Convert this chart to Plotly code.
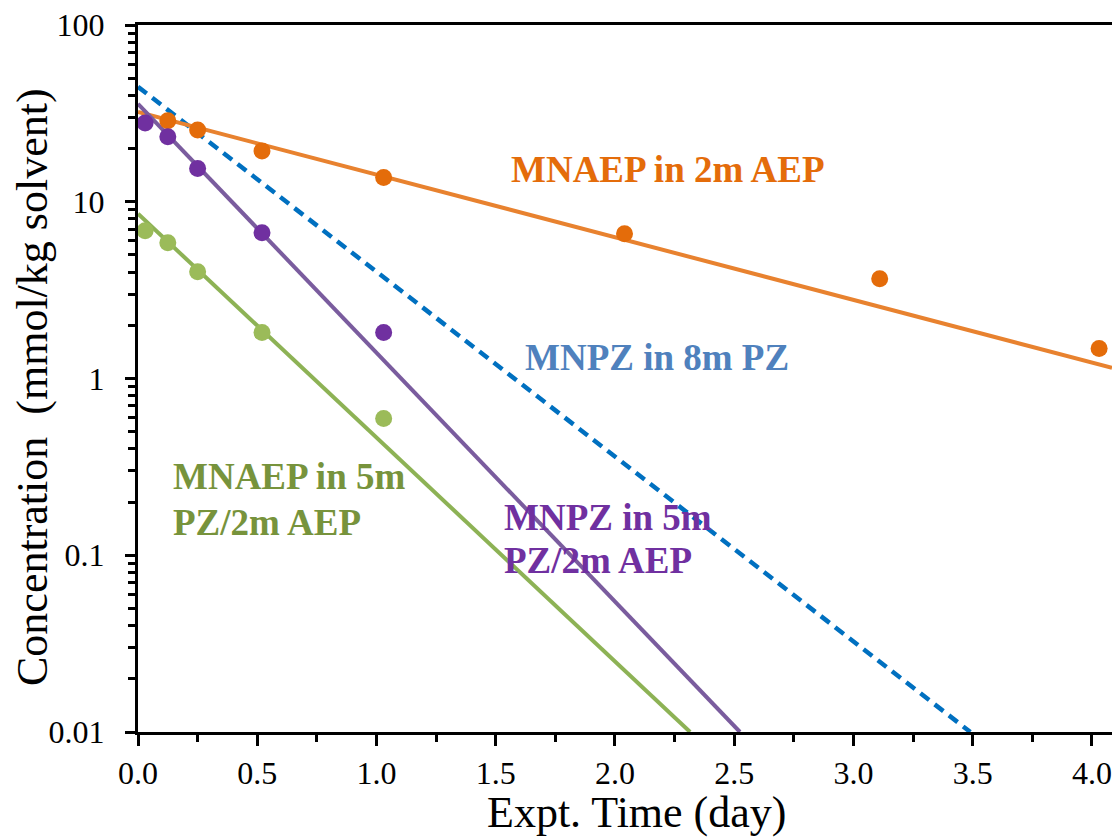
import plotly.graph_objects as go

# ---------------- data ----------------
# measured points: time (day) and concentration (mmol/kg solvent)
aep2_time = [0.125, 0.25, 0.52, 1.03, 2.04, 3.11, 4.03]
aep2_conc = [28.7, 25.5, 19.4, 13.7, 6.6, 3.67, 1.48]

mnpz_blend_time = [0.03, 0.125, 0.25, 0.52, 1.03]
mnpz_blend_conc = [27.9, 23.3, 15.4, 6.68, 1.82]

mnaep_blend_time = [0.03, 0.125, 0.25, 0.52, 1.03]
mnaep_blend_conc = [6.86, 5.87, 4.02, 1.82, 0.594]

# first-order fit lines (straight on the log axis), given by their end points
aep2_fit_time = [0.0, 4.084]
aep2_fit_conc = [32.2, 1.15]

mnpz_blend_fit_time = [0.0, 2.524]
mnpz_blend_fit_conc = [35.8, 0.01]

mnaep_blend_fit_time = [0.0, 2.315]
mnaep_blend_fit_conc = [8.56, 0.01]

pz8_fit_time = [0.0, 3.49]
pz8_fit_conc = [44.7, 0.01]

x_tick_vals = [0.0, 0.5, 1.0, 1.5, 2.0, 2.5, 3.0, 3.5, 4.0]
y_tick_vals = [0.01, 0.1, 1, 10, 100]
y_tick_text = ["0.01", "0.1", "1", "10", "100"]

# ---------------- style ----------------
FONT = "Liberation Serif, Times New Roman, serif"
ORANGE_PT = "#E46C0A"
ORANGE_LN = "#E8822F"
PURPLE_PT = "#7030A0"
PURPLE_LN = "#7A5C9E"
GREEN_PT = "#9BBB59"
GREEN_LN = "#8DB255"
BLUE_LN = "#0070C0"

fig = go.Figure()

# fit lines
fig.add_trace(go.Scatter(x=pz8_fit_time, y=pz8_fit_conc, mode="lines",
                         line=dict(color=BLUE_LN, width=4.5, dash="11px,7px"),
                         showlegend=False, name="MNPZ in 8m PZ"))
fig.add_trace(go.Scatter(x=aep2_fit_time, y=aep2_fit_conc, mode="lines",
                         line=dict(color=ORANGE_LN, width=4),
                         showlegend=False, name="MNAEP in 2m AEP fit"))
fig.add_trace(go.Scatter(x=mnaep_blend_fit_time, y=mnaep_blend_fit_conc, mode="lines",
                         line=dict(color=GREEN_LN, width=4),
                         showlegend=False, name="MNAEP in 5m PZ/2m AEP fit"))
fig.add_trace(go.Scatter(x=mnpz_blend_fit_time, y=mnpz_blend_fit_conc, mode="lines",
                         line=dict(color=PURPLE_LN, width=4),
                         showlegend=False, name="MNPZ in 5m PZ/2m AEP fit"))

# data points
fig.add_trace(go.Scatter(x=aep2_time, y=aep2_conc, mode="markers",
                         marker=dict(color=ORANGE_PT, size=17),
                         showlegend=False, name="MNAEP in 2m AEP"))
fig.add_trace(go.Scatter(x=mnaep_blend_time, y=mnaep_blend_conc, mode="markers",
                         marker=dict(color=GREEN_PT, size=17),
                         showlegend=False, name="MNAEP in 5m PZ/2m AEP"))
fig.add_trace(go.Scatter(x=mnpz_blend_time, y=mnpz_blend_conc, mode="markers",
                         marker=dict(color=PURPLE_PT, size=17),
                         showlegend=False, name="MNPZ in 5m PZ/2m AEP"))

# labels
def label(text, x, y, color, xanchor="center"):
    fig.add_annotation(x=x, y=y, xref="x", yref="y", text=f"<b>{text}</b>",
                       showarrow=False, xanchor=xanchor, yanchor="middle",
                       font=dict(family=FONT, size=37, color=color))

label("MNAEP in 2m AEP", 2.222, 1.180, "#E46C0A")
label("MNPZ in 8m PZ", 2.178, 0.119, "#4F81BD")
label("MNAEP in 5m", 0.140, -0.552, "#77933C", xanchor="left")
label("PZ/2m AEP", 0.140, -0.812, "#77933C", xanchor="left")
label("MNPZ in 5m", 1.525, -0.784, "#7030A0", xanchor="left")
label("PZ/2m AEP", 1.525, -1.027, "#7030A0", xanchor="left")

# axis titles
fig.add_annotation(xref="paper", yref="paper", x=0.512, y=-0.114,
                   text="Expt. Time (day)", showarrow=False,
                   xanchor="center", yanchor="middle",
                   font=dict(family=FONT, size=44, color="black"))
fig.add_annotation(xref="paper", yref="paper", x=-0.1078, y=0.488,
                   text="Concentration  (mmol/kg solvent)", showarrow=False,
                   textangle=-90, xanchor="center", yanchor="middle",
                   font=dict(family=FONT, size=44, color="black"))

fig.update_xaxes(range=[0, 4.084], tickvals=x_tick_vals, tickformat=".1f",
                 showgrid=False, zeroline=False, automargin=False,
                 showline=True, linecolor="black", linewidth=3, mirror=True,
                 ticks="outside", ticklen=11, tickwidth=2.5, tickcolor="black",
                 minor=dict(ticks="outside", ticklen=7, tickwidth=2.5,
                            tickcolor="black", dtick=0.25, showgrid=False),
                 tickfont=dict(family=FONT, size=32, color="black"),
                 ticklabelstandoff=0)
fig.update_yaxes(type="log", range=[-2, 2], tickvals=y_tick_vals, ticktext=y_tick_text,
                 showgrid=False, zeroline=False, automargin=False,
                 showline=True, linecolor="black", linewidth=3, mirror=False,
                 ticks="outside", ticklen=10, tickwidth=2.5, tickcolor="black",
                 minor=dict(ticks="outside", ticklen=7, tickwidth=2.5,
                            tickcolor="black", dtick="D1", showgrid=False),
                 tickfont=dict(family=FONT, size=32, color="black"),
                 ticklabelstandoff=14)

fig.update_layout(width=1112, height=840,
                  margin=dict(l=138, r=0, t=25, b=108),
                  plot_bgcolor="white", paper_bgcolor="white",
                  showlegend=False)

# remove the default 8px body margin so the figure sits at the page origin
fig.write_html(
    "out.html",
    config={"displayModeBar": False},
    post_script="document.body.style.margin='0';document.body.style.overflow='hidden';",
)
